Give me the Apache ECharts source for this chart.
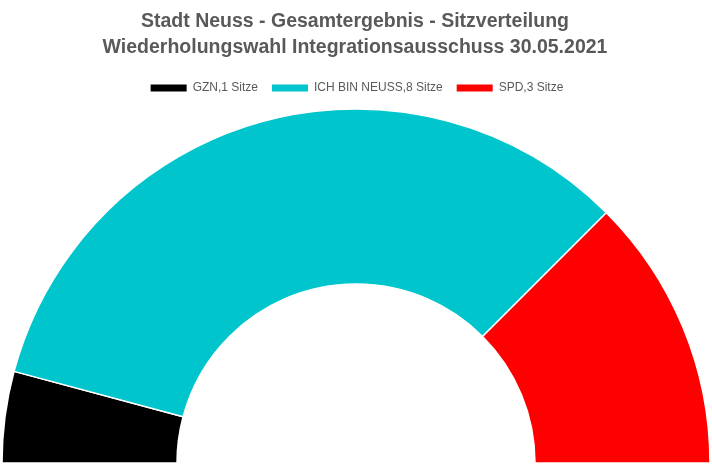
<!DOCTYPE html>
<html><head><meta charset="utf-8">
<script src="https://cdn.jsdelivr.net/npm/echarts@6/dist/echarts.min.js"></script>
<style>html,body{margin:0;padding:0;background:#fff}#c{width:712px;height:474px}</style>
</head><body><div id="c"></div>
<script>
const categories = ["GZN,1 Sitze", "ICH BIN NEUSS,8 Sitze", "SPD,3 Sitze"];
const seats = [1, 8, 3];
const colors = ["#000000", "#00C5CD", "#FF0000"];
const chart = echarts.init(document.getElementById('c'));
chart.setOption({
  animation: false,
  title: {
    text: "Stadt Neuss - Gesamtergebnis - Sitzverteilung\nWiederholungswahl Integrationsausschuss 30.05.2021",
    left: 350, textAlign: 'center', top: 4,
    textStyle: {fontFamily: 'Liberation Sans, Arial', fontSize: 19.5, fontWeight: 'bold', color: '#595959', lineHeight: 26}
  },
  legend: {
    top: 77, left: 'center', icon: 'rect', itemWidth: 38, itemHeight: 9, itemGap: 12,
    textStyle: {fontFamily: 'Liberation Sans, Arial', fontSize: 12, color: '#595959'},
    data: categories
  },
  series: [{
    type: 'pie',
    center: [356, 463],
    radius: [179, 354],
    startAngle: 180,
    endAngle: 0,
    clockwise: true,
    label: {show: false},
    labelLine: {show: false},
    silent: true,
    itemStyle: {borderColor: '#fff', borderWidth: 1.5},
    data: categories.map((n, i) => ({name: n, value: seats[i], itemStyle: {color: colors[i]}}))
  }]
});
</script></body></html>
